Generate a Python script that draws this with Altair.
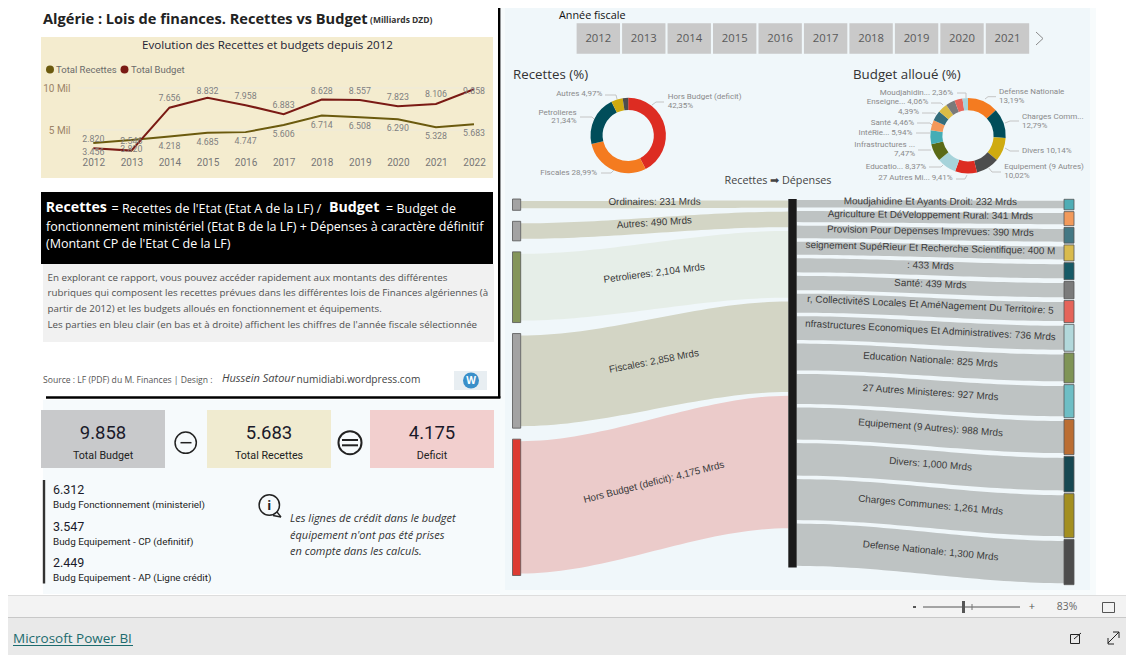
import math
import numpy as np
import pandas as pd
import altair as alt

OFF = 8
W, H = 1118, 647
OS = "Open Sans"
DIN = "Roboto"
AR = "Liberation Sans"

# ---------- data ----------
years = [2012, 2013, 2014, 2015, 2016, 2017, 2018, 2019, 2020, 2021, 2022]
total_budget = [2.820, 2.546, 7.656, 8.832, 7.958, 6.883, 8.628, 8.557, 7.823, 8.106, 9.858]
total_recettes = [3.456, 3.820, 4.218, 4.685, 4.747, 5.606, 6.714, 6.508, 6.290, 5.328, 5.683]
slicer_years = years[:-1]

rec_names = ["Ordinaires", "Autres", "Petrolieres", "Fiscales", "Hors Budget (deficit)"]
rec_values = [231, 490, 2104, 2858, 4175]
rec_labels = ["Ordinaires: 231 Mrds", "Autres: 490 Mrds", "Petrolieres: 2,104 Mrds",
              "Fiscales: 2,858 Mrds", "Hors Budget (deficit): 4,175 Mrds"]
rec_node_colors = ["#A3A3A3", "#A3A3A3", "#84955A", "#A3A3A3", "#DD3B32"]
rec_link_colors = ["#D3D5C5", "#D3D5C5", "#E6EEE8", "#D3D5C5", "#EBCBCA"]
rec_donut_pct = [42.35, 28.99, 21.34, 4.97, 2.35]
rec_donut_colors = ["#DD2C22", "#F47B20", "#014D5A", "#CFAB10", "#4D4D4D"]

dep_values = [232, 341, 390, 400, 433, 439, 585, 736, 825, 927, 988, 1000, 1261, 1300]
dep_labels = ["Moudjahidine Et Ayants Droit: 232 Mrds", "Agriculture Et DéVeloppement Rural: 341 Mrds",
              "Provision Pour Depenses Imprevues: 390 Mrds",
              "seignement SupéRieur Et Recherche Scientifique: 400 M", ": 433 Mrds", "Santé: 439 Mrds",
              "r, CollectivitéS Locales Et AméNagement Du Territoire: 5",
              "nfrastructures Economiques Et Administratives: 736 Mrds", "Education Nationale: 825 Mrds",
              "27 Autres Ministeres: 927 Mrds", "Equipement (9 Autres): 988 Mrds", "Divers: 1,000 Mrds",
              "Charges Communes: 1,261 Mrds", "Defense Nationale: 1,300 Mrds"]
dep_node_colors = ["#4FADB5", "#F29A5B", "#447884", "#D9BB4D", "#175A66", "#7B7B7B", "#E5645A",
                   "#B2D8DB", "#7F9456", "#6EBEC5", "#BB6E33", "#174852", "#A38F20", "#4D4D4D"]
dep_donut_pct = [13.19, 12.79, 10.14, 10.02, 9.41, 8.37, 7.47, 5.94, 4.46, 4.39, 4.06, 3.96, 3.46, 2.36]
dep_donut_colors = ["#F47B20", "#014D5A", "#CFAB10", "#4D4D4D", "#DD2C22", "#A6D3DA", "#5A6A16",
                    "#45ADB5", "#F4985A", "#336D7C", "#D9BC45", "#7A7A7A", "#E8655A", "#A6D3DA"]

kpi_values = ["9.858", "5.683", "4.175"]
kpi_names = ["Total Budget", "Total Recettes", "Deficit"]
kpi_colors = ["#C8C9CB", "#F0EBD0", "#F2CFCE"]
detail_values = ["6.312", "3.547", "2.449"]
detail_names = ["Budg Fonctionnement (ministeriel)", "Budg Equipement - CP (definitif)",
                "Budg Equipement - AP (Ligne crédit)"]
intro_lines = ["En explorant ce rapport, vous pouvez accéder rapidement aux montants des différentes",
               "rubriques qui composent les recettes prévues dans les différentes lois de Finances algériennes (à",
               "partir de 2012) et les budgets alloués en fonctionnement et équipements.",
               "Les parties en bleu clair (en bas et à droite) affichent les chiffres de l'année fiscale sélectionnée"]
note_lines = ["Les lignes de crédit dans le budget", "équipement n'ont pas été prises", "en compte dans les calculs."]

ONE = pd.DataFrame({"a": [0]})
layers = []


def T(s, x, y, size=11, color="#333", font=OS, weight="normal", style="normal", align="left", baseline="middle", angle=None):
    kw = dict(fontSize=size, color=color, font=font, fontWeight=weight, fontStyle=style, align=align, baseline=baseline)
    if angle is not None:
        kw["angle"] = angle
    layers.append(alt.Chart(ONE).mark_text(**kw).encode(
        x=alt.value(x - OFF), y=alt.value(y - OFF), text=alt.value(s)))


def R(x0, y0, x1, y1, fill, stroke=None, sw=1):
    kw = dict(fill=fill)
    if stroke:
        kw.update(stroke=stroke, strokeWidth=sw)
    layers.append(alt.Chart(ONE).mark_rect(**kw).encode(
        x=alt.value(x0 - OFF), x2=alt.value(x1 - OFF), y=alt.value(y0 - OFF), y2=alt.value(y1 - OFF)))


def L(x0, y0, x1, y1, color="#bbb", w=1):
    layers.append(alt.Chart(ONE).mark_rule(color=color, strokeWidth=w).encode(
        x=alt.value(x0 - OFF), x2=alt.value(x1 - OFF), y=alt.value(y0 - OFF), y2=alt.value(y1 - OFF)))


def PL(pts, color="#c4c4c4", w=1):
    for a, b in zip(pts[:-1], pts[1:]):
        L(a[0], a[1], b[0], b[1], color, w)


def C(cx, cy, r, fill=None, stroke=None, sw=1.5):
    kw = dict(shape="circle", size=math.pi * r * r, opacity=1)
    if fill:
        kw.update(filled=True, fill=fill, stroke=fill, strokeWidth=0)
    else:
        kw.update(filled=False, stroke=stroke, strokeWidth=sw, fill="transparent")
    layers.append(alt.Chart(ONE).mark_point(**kw).encode(x=alt.value(cx - OFF), y=alt.value(cy - OFF)))


# ---------- backgrounds ----------
R(500, 0, 1096, 595, "#F7FBFC")
R(505, 6, 1090, 590, "#F0F7FA")
R(43, 400, 500, 594, "#F6FAFC")
R(0, 595, 1134, 596, "#DDDDDD")
R(0, 596, 1134, 617, "#F3F3F3")
R(0, 617, 1134, 618, "#C8C8C8")
R(0, 618, 1134, 655, "#E9E9E9")

# card border
L(499.2, 8, 499.2, 398, "#000000", 2.4)
L(46, 397.5, 500.4, 397.5, "#000000", 2.4)

# ---------- title ----------
T("Algérie : Lois de finances. Recettes vs Budget", 43, 19.5, 14.6, "#222", OS, "bold")
T("(Milliards DZD)", 370, 20, 8.5, "#333", OS, "bold")

# ---------- line chart ----------
R(41, 37, 493, 178, "#F4ECCF")
T("Evolution des Recettes et budgets depuis 2012", 267.5, 45.5, 11.6, "#223", OS, align="center")
C(50, 69.5, 4.5, fill="#6B5A0E")
T("Total Recettes", 56, 69.5, 9.5, "#6B6B6B", DIN)
C(124.5, 69.5, 4.5, fill="#7A1A14")
T("Total Budget", 131, 69.5, 9.5, "#6B6B6B", DIN)

line_df = pd.DataFrame({"year": years, "budget": total_budget, "recettes": total_recettes})
line_df["budget_anchor"] = line_df["budget"].clip(upper=8.49)
xs = alt.Scale(domain=[2012, 2022], range=[93.3 - OFF, 474 - OFF], nice=False, zero=False)
ys = alt.Scale(domain=[0, 10], range=[172 - OFF, 88 - OFF], nice=False, zero=True)

grid = pd.DataFrame({"v": [5, 10]})
layers.append(alt.Chart(grid).mark_rule(color="#EDEADC", strokeWidth=1).encode(
    y=alt.Y("v:Q", scale=ys, axis=alt.Axis(values=[5, 10], orient="left", offset=-(71 - OFF), title=None, domain=False,
                                            ticks=False, grid=False, labelPadding=1, labelFont=DIN, labelFontSize=10,
                                            labelColor="#9C8468", zindex=1,
                                            labelExpr="datum.value == 10 ? '10 Mil' : '5 Mil'")),
    x=alt.value(78 - OFF), x2=alt.value(489 - OFF)))

layers.append(alt.Chart(line_df).mark_line(color="#6B5A0E", strokeWidth=2).encode(
    x=alt.X("year:Q", scale=xs, axis=alt.Axis(values=years, format="d", orient="bottom", offset=157 - OFF - H, title=None,
                                               domain=False, ticks=False, grid=False, labelPadding=0, labelFont=DIN,
                                               labelFontSize=10, labelColor="#777777", labelFlush=False,
                                               labelOverlap=False, zindex=1)),
    y=alt.Y("recettes:Q", scale=ys, axis=None)))
layers.append(alt.Chart(line_df).mark_line(color="#7A1A14", strokeWidth=2).encode(
    x=alt.X("year:Q", scale=xs, axis=None), y=alt.Y("budget:Q", scale=ys, axis=None)))
layers.append(alt.Chart(line_df).mark_text(fontSize=8.8, font=DIN, color="#7F7F7F", dy=-9.5).encode(
    x=alt.X("year:Q", scale=xs, axis=None), y=alt.Y("budget_anchor:Q", scale=ys, axis=None),
    text=alt.Text("budget:Q", format=".3f")))
layers.append(alt.Chart(line_df).mark_text(fontSize=8.8, font=DIN, color="#7F7F7F", dy=9).encode(
    x=alt.X("year:Q", scale=xs, axis=None), y=alt.Y("recettes:Q", scale=ys, axis=None),
    text=alt.Text("recettes:Q", format=".3f")))

# ---------- definition box ----------
R(41, 192, 493, 264, "#000000")
T("Recettes", 45.7, 208.3, 14.2, "#FFFFFF", OS, "bold")
T("= Recettes de l'Etat (Etat A de la LF) /", 111.5, 208.5, 12.5, "#FFFFFF")
T("Budget", 329, 208.3, 14.2, "#FFFFFF", OS, "bold")
T("= Budget de", 386, 208.5, 12.5, "#FFFFFF")
T("fonctionnement ministériel (Etat B de la LF) + Dépenses à caractère définitif", 46, 226.7, 12.5, "#FFFFFF")
T("(Montant CP de l'Etat C de la LF)", 46, 244.3, 12.5, "#FFFFFF")

R(43, 264, 494, 342, "#F1F1F1")
for line, yy in zip(intro_lines, [277.7, 293.3, 309.3, 325]):
    T(line, 47.5, yy, 9.78, "#505050")

T("Source : LF (PDF) du M. Finances | Design :", 43, 379.5, 8.6, "#555")
T("Hussein Satour", 222, 379, 11, "#444", OS, style="italic")
T("numidiabi.wordpress.com", 296.5, 379.5, 10.2, "#444")
R(454, 371, 487, 390, "#E8EEF2")
C(471, 380.5, 9, fill="#3A8FC9")
T("W", 471, 380.5, 10, "#FFFFFF", OS, "bold", align="center")

# ---------- KPI ----------
for i, (x0, x1) in enumerate([(41, 165), (207, 331), (370, 494)]):
    R(x0, 410, x1, 468, kpi_colors[i])
    T(kpi_values[i], (x0 + x1) / 2, 433, 18.5, "#1A1A2A", DIN, align="center")
    T(kpi_names[i], (x0 + x1) / 2, 456, 10.7, "#222", DIN, align="center")
C(185.7, 442.7, 12, stroke="#222", sw=1.5)
L(180.5, 442.7, 191.5, 442.7, "#222", 1.5)
C(350, 442.7, 13, stroke="#222", sw=2)
L(342, 440, 358, 440, "#222", 2)
L(342, 445.3, 358, 445.3, "#222", 2)

L(44, 480, 44, 583.5, "#333333", 2.4)
for i, (y1, y2) in enumerate([(489.5, 505), (526.7, 541.7), (563, 578)]):
    T(detail_values[i], 53, y1, 12.5, "#1A1A2A", DIN)
    T(detail_names[i], 53, y2, 9.9, "#222", DIN)

C(269.3, 505, 11.5, stroke="#222", sw=1.5)
T("i", 269.3, 505.5, 13, "#222", OS, "bold", align="center")
PL([(273, 515.5), (281, 517), (277, 512)], "#222", 1.3)
for line, yy in zip(note_lines, [519, 536, 552]):
    T(line, 290, yy, 11, "#333", OS, style="italic")

# ---------- slicer ----------
T("Année fiscale", 559, 16, 10.8, "#111")
sx = alt.Scale(domain=[2012, 2021], range=[598.3 - OFF, 1007.5 - OFF], nice=False, zero=False)
sl = pd.DataFrame({"year": slicer_years})
sl["lo"] = sl["year"] - 0.477
sl["hi"] = sl["year"] + 0.477
layers.append(alt.Chart(sl).mark_rect(fill="#C9C9C9").encode(
    x=alt.X("lo:Q", scale=sx, axis=None), x2="hi:Q", y=alt.value(23.3 - OFF), y2=alt.value(53.7 - OFF)))
layers.append(alt.Chart(sl).mark_text(fontSize=11.3, font=OS, color="#5A5A5A").encode(
    x=alt.X("year:Q", scale=sx, axis=None), y=alt.value(39 - OFF), text=alt.Text("year:Q", format="d")))
PL([(1036, 32), (1043, 38.5), (1036, 45)], "#8A8A8A", 1)

# ---------- donuts ----------
T("Recettes (%)", 513, 75, 13.3, "#333")
T("Budget alloué (%)", 853, 75, 13.3, "#333")


def donut(pcts, cols, cx, cy):
    d = pd.DataFrame({"v": pcts, "c": cols, "i": list(range(len(pcts)))})
    layers.append(alt.Chart(d).mark_arc(innerRadius=25.6, outerRadius=37.7).encode(
        theta=alt.Theta("v:Q", stack=True),
        detail="i:N",
        order=alt.Order("i:Q"),
        fill=alt.Fill("c:N", scale=None),
        x=alt.value(cx - OFF), y=alt.value(cy - OFF)))


donut(rec_donut_pct, rec_donut_colors, 628.2, 135.5)
donut(dep_donut_pct, dep_donut_colors, 968, 135.8)

LC = "#8A8A8A"
LS = 8.0
T("Autres 4,97%", 602.3, 94.3, LS, LC, DIN, align="right")
PL([(605, 95), (616, 95), (617, 99)])
T("Petrolieres", 576.7, 112.7, LS, LC, DIN, align="right")
T("21,34%", 576.7, 121.3, LS, LC, DIN, align="right")
PL([(580, 117), (592, 117), (594, 119)])
T("Fiscales 28,99%", 597, 173.3, LS, LC, DIN, align="right")
PL([(601, 173), (611, 173), (614, 170)])
T("Hors Budget (deficit)", 667.7, 97, LS, LC, DIN)
T("42,35%", 667.7, 106.3, LS, LC, DIN)
PL([(652, 105), (656, 102), (664, 102)])

T("Moudjahidin... 2,36%", 953, 93, LS, LC, DIN, align="right")
PL([(957, 93), (966, 93), (966, 98)])
T("Enseigne... 4,06%", 928.3, 102.3, LS, LC, DIN, align="right")
PL([(931, 103), (941, 103), (943, 105)])
T("4,39%", 919, 112.3, LS, LC, DIN, align="right")
PL([(922, 113), (934, 113), (936, 114)])
T("Santé 4,46%", 914, 123.3, LS, LC, DIN, align="right")
PL([(917, 123), (930, 123), (932, 125)])
T("IntéRie... 5,94%", 912.3, 133.3, LS, LC, DIN, align="right")
PL([(916, 133), (930, 133)])
T("Infrastructures ...", 915, 145.3, LS, LC, DIN, align="right")
T("7,47%", 915, 154, LS, LC, DIN, align="right")
PL([(918, 150), (931, 150)])
T("Educatio... 8,37%", 926, 167, LS, LC, DIN, align="right")
PL([(929, 167), (941, 167), (943, 165)])
T("27 Autres Mi... 9,41%", 952.7, 178.3, LS, LC, DIN, align="right")
PL([(956, 179), (965, 179), (967, 175)])
T("Defense Nationale", 999, 92.3, LS, LC, DIN)
T("13,19%", 999, 101.3, LS, LC, DIN)
PL([(985, 99), (988, 96.7), (996, 96.7)])
T("Charges Comm...", 1022, 116.7, LS, LC, DIN)
T("12,79%", 1022, 126, LS, LC, DIN)
PL([(1005, 123), (1010, 121), (1019, 121)])
T("Divers 10,14%", 1022, 151.3, LS, LC, DIN)
PL([(1005, 148), (1010, 151), (1019, 151)])
T("Equipement (9 Autres)", 1004.3, 167.3, LS, LC, DIN)
T("10,02%", 1004.3, 176.3, LS, LC, DIN)
PL([(988, 167), (992, 172), (1001, 172)])

# ---------- sankey ----------
T("Recettes ➡ Dépenses", 778, 181, 10.8, "#444", OS, align="center")


def ribbon(rows, name, fill, a0, a1, b0, b1):
    for t in np.linspace(0, 1, 41):
        s = 3 * t * t - 2 * t * t * t
        rows.append(dict(n=name, fill=fill, t=float(t), y0=a0 + (b0 - a0) * s, y1=a1 + (b1 - a1) * s))


KL, KR = 0.0317, 0.0325
yl = alt.Scale(domain=[0, 1000], range=[199 - OFF, 199 - OFF + 1000 * KL], nice=False, zero=False)
yr = alt.Scale(domain=[0, 1000], range=[199.3 - OFF, 199.3 - OFF + 1000 * KR], nice=False, zero=False)
txl = alt.Scale(domain=[0, 1], range=[520.7 - OFF, 788.3 - OFF], nice=False, zero=False)
txr = alt.Scale(domain=[0, 1], range=[796.7 - OFF, 1064 - OFF], nice=False, zero=False)

# left side
pad, gap, cgap = 4 / KL, 11 / KL, 3.8 / KL
u, c = 0.0, 1.5 / KL
rows, nodes, labs = [], [], []
for i, v in enumerate(rec_values):
    a0, a1 = u + pad / 2, u + pad / 2 + v
    b0, b1 = c, c + v
    ribbon(rows, rec_names[i], rec_link_colors[i], a0, a1, b0, b1)
    nodes.append(dict(y0=u, y1=u + v + pad, c=rec_node_colors[i]))
    ang = math.degrees(math.atan(1.5 * (b0 - a0) * KL / (788.3 - 520.7)))
    labs.append(dict(t=0.5, y=(a0 + a1 + b0 + b1) / 4, s=rec_labels[i], ang=ang % 360))
    u += v + pad + gap
    c += v + cgap
layers.append(alt.Chart(pd.DataFrame(rows)).mark_area(interpolate="linear").encode(
    x=alt.X("t:Q", scale=txl, axis=None), y=alt.Y("y0:Q", scale=yl, axis=None, stack=None), y2="y1:Q",
    detail="n:N", fill=alt.Fill("fill:N", scale=None)))
layers.append(alt.Chart(pd.DataFrame(nodes)).mark_rect(stroke="#555555", strokeWidth=0.8).encode(
    y=alt.Y("y0:Q", scale=yl, axis=None), y2="y1:Q", x=alt.value(512.5 - OFF), x2=alt.value(520.7 - OFF),
    fill=alt.Fill("c:N", scale=None)))
layers.append(alt.Chart(pd.DataFrame(labs)).mark_text(font=AR, fontSize=9.9, color="#3A3A3A", dy=-2.5).encode(
    x=alt.X("t:Q", scale=txl, axis=None), y=alt.Y("y:Q", scale=yl, axis=None), text="s:N",
    angle=alt.Angle("ang:Q", scale=None)))

# right side
pad, gap, cgap = 3 / KR, 1.77 / KR, 3.5 / KR
u, c = 0.0, 0.7 / KR
rows, nodes, labs = [], [], []
for i, v in enumerate(dep_values):
    a0, a1 = c, c + v
    b0, b1 = u + pad / 2, u + pad / 2 + v
    ribbon(rows, dep_labels[i], "#BEC3C3", a0, a1, b0, b1)
    nodes.append(dict(y0=u, y1=u + v + pad, c=dep_node_colors[i]))
    ang = math.degrees(math.atan(1.5 * (b0 - a0) * KR / (1064 - 796.7)))
    labs.append(dict(t=0.5, y=(a0 + a1 + b0 + b1) / 4, s=dep_labels[i], ang=ang % 360))
    u += v + pad + gap
    c += v + cgap
layers.append(alt.Chart(pd.DataFrame(rows)).mark_area(interpolate="linear").encode(
    x=alt.X("t:Q", scale=txr, axis=None), y=alt.Y("y0:Q", scale=yr, axis=None, stack=None), y2="y1:Q",
    detail="n:N", fill=alt.Fill("fill:N", scale=None)))
layers.append(alt.Chart(pd.DataFrame(nodes)).mark_rect(stroke="#555555", strokeWidth=0.8).encode(
    y=alt.Y("y0:Q", scale=yr, axis=None), y2="y1:Q", x=alt.value(1064 - OFF), x2=alt.value(1074 - OFF),
    fill=alt.Fill("c:N", scale=None)))
layers.append(alt.Chart(pd.DataFrame(labs)).mark_text(font=AR, fontSize=9.9, color="#3A3A3A", dy=-2.5).encode(
    x=alt.X("t:Q", scale=txr, axis=None), y=alt.Y("y:Q", scale=yr, axis=None), text="s:N",
    angle=alt.Angle("ang:Q", scale=None)))
# centre node spans the whole budget column
centre = pd.DataFrame({"y0": [-0.3 / KR], "y1": [c - cgap + 1.7 / KR]})
layers.append(alt.Chart(centre).mark_rect(fill="#1A1A1A").encode(
    y=alt.Y("y0:Q", scale=yr, axis=None), y2="y1:Q", x=alt.value(788.3 - OFF), x2=alt.value(796.7 - OFF)))

# ---------- footer ----------
R(913, 606, 916, 608, "#555555")
L(923, 607, 1020, 607, "#555555", 1)
L(963.5, 601, 963.5, 613, "#555555", 3)
L(972, 604, 972, 610, "#777777", 1)
T("+", 1032, 606.5, 11, "#555", OS, align="center")
T("83%", 1067, 607, 10.3, "#666", OS, align="center")
R(1102.5, 602.5, 1114.5, 612.5, "#F3F3F3", stroke="#555555", sw=1)
T("Microsoft Power BI", 13, 639, 13.5, "#1C6B6E", OS, "normal")
L(13, 645.5, 133, 645.5, "#1C6B6E", 1)
R(1070.5, 634.5, 1079.5, 643.5, "#E9E9E9", stroke="#222222", sw=1)
L(1074, 639, 1081, 633, "#222222", 1)
PL([(1108, 643), (1119, 632)], "#222222", 1)
PL([(1108, 638), (1108, 644), (1114, 644)], "#222222", 1)
PL([(1113, 632), (1119, 632), (1119, 638)], "#222222", 1)

chart = (
    alt.layer(*layers)
    .resolve_scale(x="independent", y="independent", theta="independent")
    .properties(width=W, height=H, padding=0, background="#FFFFFF",
                autosize=alt.AutoSizeParams(type="none"))
    .configure_view(stroke=None)
)
chart.save("out.html", embed_options={"renderer": "svg", "actions": False})
